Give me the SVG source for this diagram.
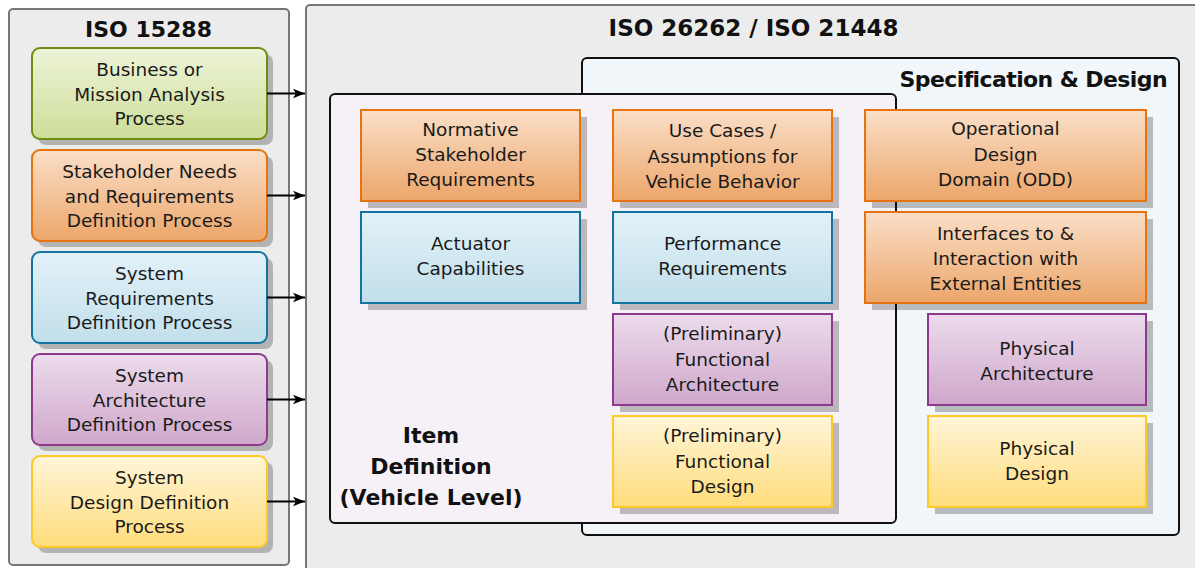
<svg xmlns="http://www.w3.org/2000/svg" width="1195" height="568" viewBox="0 0 1195 568">
<style>
.panel{fill:#ececec;stroke:#777;stroke-width:2}
.outer{stroke:#111;stroke-width:2}
.t{font-family:"DejaVu Sans",sans-serif;font-size:18.5px;fill:#1a1a1a;text-anchor:middle}
.h{font-family:"DejaVu Sans",sans-serif;font-weight:bold;fill:#111;text-anchor:middle}
.sh{fill:#000;fill-opacity:0.24}
.n{stroke-width:2}
.g{fill:url(#gG);stroke:#6f8c12}
.o{fill:url(#gO);stroke:#e6730f}
.b{fill:url(#gB);stroke:#1673a0}
.p{fill:url(#gP);stroke:#8c3b8c}
.y{fill:url(#gY);stroke:#fcc82a}
.c{stroke:#000;stroke-width:2;fill:none}
</style>
<defs>
<linearGradient id="gG" x1="0" y1="0" x2="0" y2="1"><stop offset="0" stop-color="#eef4d8"/><stop offset="1" stop-color="#cddd98"/></linearGradient>
<linearGradient id="gO" x1="0" y1="0" x2="0" y2="1"><stop offset="0" stop-color="#fadfc8"/><stop offset="1" stop-color="#eca66a"/></linearGradient>
<linearGradient id="gB" x1="0" y1="0" x2="0" y2="1"><stop offset="0" stop-color="#e3f1f8"/><stop offset="1" stop-color="#c0dfeb"/></linearGradient>
<linearGradient id="gP" x1="0" y1="0" x2="0" y2="1"><stop offset="0" stop-color="#ecdcec"/><stop offset="1" stop-color="#cfa7cb"/></linearGradient>
<linearGradient id="gY" x1="0" y1="0" x2="0" y2="1"><stop offset="0" stop-color="#fff5d8"/><stop offset="1" stop-color="#ffdd7c"/></linearGradient>
<marker id="arr" markerUnits="userSpaceOnUse" markerWidth="14" markerHeight="12" refX="12" refY="6" orient="auto">
<path d="M0,1.2 L12,6 L0,10.8 L3,6 Z" fill="#000"/>
</marker>
</defs>

<g id="iso15288">
<rect class="panel" x="9" y="9" width="280" height="556" rx="4"/>
<text class="h" x="148.5" y="37" font-size="22">ISO 15288</text>
</g>

<g id="iso26262">
<rect class="panel" x="306" y="5" width="900" height="580" rx="4"/>
<text class="h" x="753.5" y="36" font-size="23">ISO 26262 / ISO 21448</text>
</g>

<g id="spec-design">
<rect class="outer" x="582" y="58" width="597" height="477" rx="5" fill="#f0f6fa"/>
<text class="h" x="1167" y="87" font-size="22" style="text-anchor:end;letter-spacing:-0.6px">Specification &amp; Design</text>
</g>

<g id="item-definition">
<rect class="outer" x="330" y="94" width="566" height="429" rx="5" fill="#f6f1f6"/>
<text class="h" font-size="22"><tspan x="431" y="443">Item</tspan><tspan x="431" y="474">Definition</tspan><tspan x="431" y="505">(Vehicle Level)</tspan></text>
</g>

<g id="business-mission">
<rect class="sh" x="38" y="54" width="235" height="91" rx="8"/>
<rect class="n g" x="32" y="48" width="235" height="91" rx="8"/>
<text class="t"><tspan x="149.5" y="76">Business or</tspan><tspan x="149.5" y="100.5">Mission Analysis</tspan><tspan x="149.5" y="125">Process</tspan></text>
</g>
<g id="stakeholder-needs">
<rect class="sh" x="38" y="156" width="235" height="91" rx="8"/>
<rect class="n o" x="32" y="150" width="235" height="91" rx="8"/>
<text class="t"><tspan x="149.5" y="178">Stakeholder Needs</tspan><tspan x="149.5" y="202.5">and Requirements</tspan><tspan x="149.5" y="227">Definition Process</tspan></text>
</g>
<g id="system-requirements">
<rect class="sh" x="38" y="258" width="235" height="91" rx="8"/>
<rect class="n b" x="32" y="252" width="235" height="91" rx="8"/>
<text class="t"><tspan x="149.5" y="280">System</tspan><tspan x="149.5" y="304.5">Requirements</tspan><tspan x="149.5" y="329">Definition Process</tspan></text>
</g>
<g id="system-architecture">
<rect class="sh" x="38" y="360" width="235" height="91" rx="8"/>
<rect class="n p" x="32" y="354" width="235" height="91" rx="8"/>
<text class="t"><tspan x="149.5" y="382">System</tspan><tspan x="149.5" y="406.5">Architecture</tspan><tspan x="149.5" y="431">Definition Process</tspan></text>
</g>
<g id="system-design">
<rect class="sh" x="38" y="462" width="235" height="91" rx="8"/>
<rect class="n y" x="32" y="456" width="235" height="91" rx="8"/>
<text class="t"><tspan x="149.5" y="484">System</tspan><tspan x="149.5" y="508.5">Design Definition</tspan><tspan x="149.5" y="533">Process</tspan></text>
</g>

<g id="connectors">
<line class="c" x1="267" y1="93.5" x2="305" y2="93.5" marker-end="url(#arr)"/>
<line class="c" x1="267" y1="195.5" x2="305" y2="195.5" marker-end="url(#arr)"/>
<line class="c" x1="267" y1="297.5" x2="305" y2="297.5" marker-end="url(#arr)"/>
<line class="c" x1="267" y1="399.5" x2="305" y2="399.5" marker-end="url(#arr)"/>
<line class="c" x1="267" y1="501.5" x2="305" y2="501.5" marker-end="url(#arr)"/>
</g>

<g id="normative">
<rect class="sh" x="368" y="117" width="219" height="91"/>
<rect class="n o" x="361" y="110" width="219" height="91"/>
<text class="t"><tspan x="470.5" y="136">Normative</tspan><tspan x="470.5" y="161">Stakeholder</tspan><tspan x="470.5" y="186">Requirements</tspan></text>
</g>
<g id="actuator">
<rect class="sh" x="368" y="219" width="219" height="91"/>
<rect class="n b" x="361" y="212" width="219" height="91"/>
<text class="t"><tspan x="470.5" y="250">Actuator</tspan><tspan x="470.5" y="275">Capabilities</tspan></text>
</g>
<g id="use-cases">
<rect class="sh" x="620" y="117" width="219" height="91"/>
<rect class="n o" x="613" y="110" width="219" height="91"/>
<text class="t"><tspan x="722.5" y="137">Use Cases /</tspan><tspan x="722.5" y="163">Assumptions for</tspan><tspan x="722.5" y="188">Vehicle Behavior</tspan></text>
</g>
<g id="performance">
<rect class="sh" x="620" y="219" width="219" height="91"/>
<rect class="n b" x="613" y="212" width="219" height="91"/>
<text class="t"><tspan x="722.5" y="250">Performance</tspan><tspan x="722.5" y="275">Requirements</tspan></text>
</g>
<g id="functional-architecture">
<rect class="sh" x="620" y="321" width="219" height="91"/>
<rect class="n p" x="613" y="314" width="219" height="91"/>
<text class="t"><tspan x="722.5" y="340">(Preliminary)</tspan><tspan x="722.5" y="366">Functional</tspan><tspan x="722.5" y="391">Architecture</tspan></text>
</g>
<g id="functional-design">
<rect class="sh" x="620" y="423" width="219" height="91"/>
<rect class="n y" x="613" y="416" width="219" height="91"/>
<text class="t"><tspan x="722.5" y="442">(Preliminary)</tspan><tspan x="722.5" y="468">Functional</tspan><tspan x="722.5" y="493">Design</tspan></text>
</g>
<g id="odd">
<rect class="sh" x="872" y="117" width="281" height="91"/>
<rect class="n o" x="865" y="110" width="281" height="91"/>
<text class="t"><tspan x="1005.5" y="135">Operational</tspan><tspan x="1005.5" y="161">Design</tspan><tspan x="1005.5" y="186">Domain (ODD)</tspan></text>
</g>
<g id="interfaces">
<rect class="sh" x="872" y="219" width="281" height="91"/>
<rect class="n o" x="865" y="212" width="281" height="91"/>
<text class="t"><tspan x="1005.5" y="240">Interfaces to &amp;</tspan><tspan x="1005.5" y="265">Interaction with</tspan><tspan x="1005.5" y="290">External Entities</tspan></text>
</g>
<g id="physical-architecture">
<rect class="sh" x="935" y="321" width="218" height="91"/>
<rect class="n p" x="928" y="314" width="218" height="91"/>
<text class="t"><tspan x="1037" y="355">Physical</tspan><tspan x="1037" y="380">Architecture</tspan></text>
</g>
<g id="physical-design">
<rect class="sh" x="935" y="423" width="218" height="91"/>
<rect class="n y" x="928" y="416" width="218" height="91"/>
<text class="t"><tspan x="1037" y="455">Physical</tspan><tspan x="1037" y="480">Design</tspan></text>
</g>
</svg>
